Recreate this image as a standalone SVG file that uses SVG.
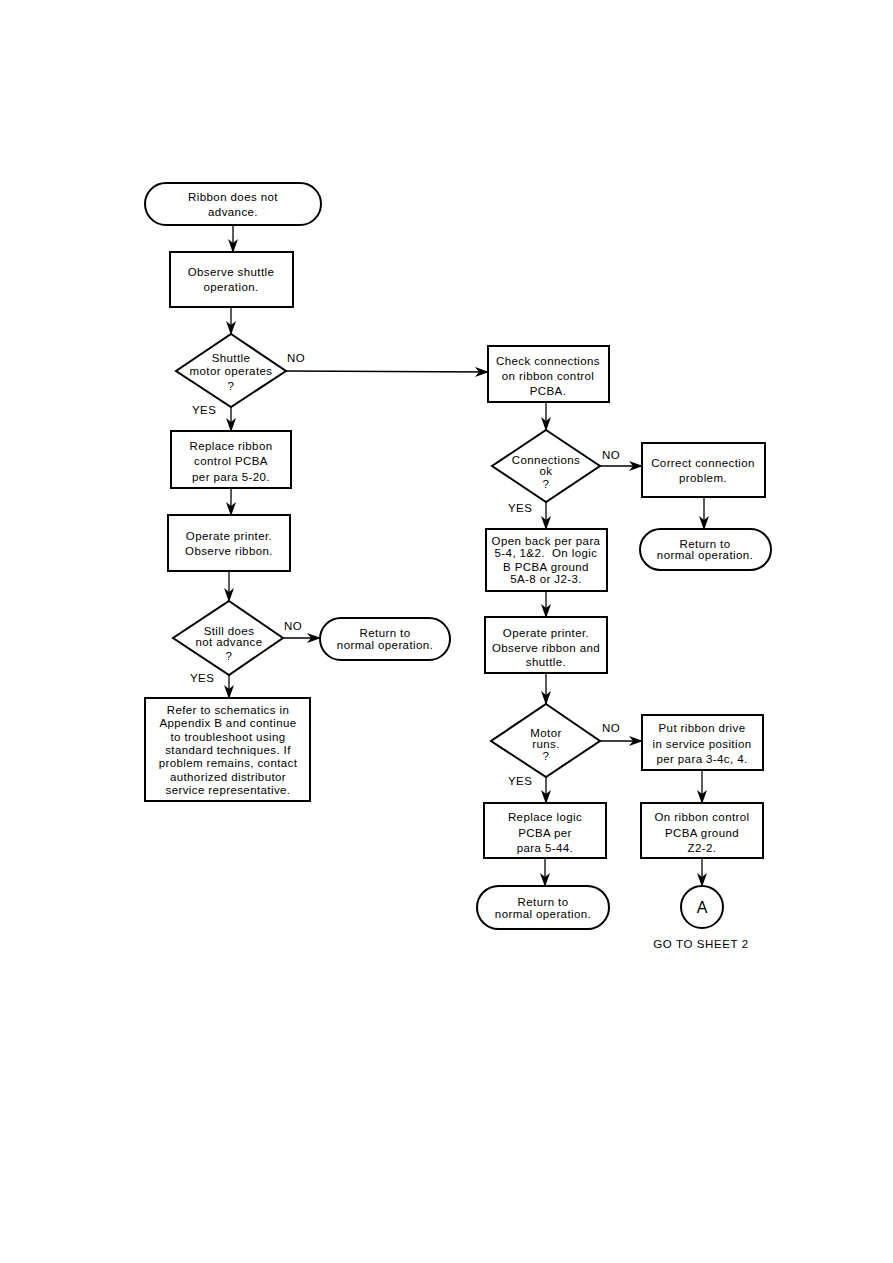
<svg xmlns="http://www.w3.org/2000/svg" width="893" height="1263" viewBox="0 0 893 1263">
<defs>
<marker id="ah" markerWidth="14" markerHeight="10" refX="13" refY="5" orient="auto" markerUnits="userSpaceOnUse">
<path d="M0,0 L14,5 L0,10 L4,5 Z" fill="#000"/>
</marker>
<style>
.s{fill:#fff;stroke:#000;stroke-width:2}
.c{fill:none;stroke:#000;stroke-width:1.3;marker-end:url(#ah)}
text{font-family:"Liberation Sans",Arial,sans-serif;font-size:11.5px;letter-spacing:0.4px;fill:#000}
.m{text-anchor:middle}
</style>
</defs>
<rect width="893" height="1263" fill="#fff"/>
<g id="connectors">
<line class="c" x1="233" y1="225" x2="233" y2="252"/>
<line class="c" x1="231" y1="307" x2="231" y2="334"/>
<line class="c" x1="286" y1="371" x2="488" y2="372"/>
<line class="c" x1="231" y1="407" x2="231" y2="431"/>
<line class="c" x1="231" y1="488" x2="231" y2="515"/>
<line class="c" x1="229" y1="571" x2="229" y2="601"/>
<line class="c" x1="283" y1="638" x2="320" y2="638"/>
<line class="c" x1="229" y1="675" x2="229" y2="698"/>
<line class="c" x1="546" y1="402" x2="546" y2="430"/>
<line class="c" x1="600" y1="466" x2="642" y2="466"/>
<line class="c" x1="704" y1="497" x2="704" y2="529"/>
<line class="c" x1="546" y1="502" x2="546" y2="529"/>
<line class="c" x1="546" y1="591" x2="546" y2="617"/>
<line class="c" x1="546" y1="673" x2="546" y2="704"/>
<line class="c" x1="600" y1="741" x2="642" y2="741"/>
<line class="c" x1="702" y1="770" x2="702" y2="803"/>
<line class="c" x1="702" y1="858" x2="702" y2="886"/>
<line class="c" x1="546" y1="777" x2="546" y2="803"/>
<line class="c" x1="545" y1="858" x2="545" y2="886"/>
</g>
<g id="labels">
<text x="287" y="362">NO</text>
<text x="192" y="414">YES</text>
<text x="284" y="630">NO</text>
<text x="190" y="682">YES</text>
<text x="602" y="459">NO</text>
<text x="508" y="512">YES</text>
<text x="602" y="732">NO</text>
<text x="508" y="785">YES</text>
</g>
<g id="n1"><rect class="s" x="145" y="183" width="176" height="42" rx="21"/>
<text class="m" x="233" y="201">Ribbon does not</text><text class="m" x="233" y="216">advance.</text></g>
<g id="n2"><rect class="s" x="170" y="252" width="123" height="55"/>
<text class="m" x="231" y="276">Observe shuttle</text><text class="m" x="231" y="291">operation.</text></g>
<g id="n3"><polygon class="s" points="231,334 286,371 231,407 176,371"/>
<text class="m" x="231" y="362">Shuttle</text><text class="m" x="231" y="375">motor operates</text><text class="m" x="231" y="390">?</text></g>
<g id="n4"><rect class="s" x="171" y="431" width="120" height="57"/>
<text class="m" x="231" y="450">Replace ribbon</text><text class="m" x="231" y="465">control PCBA</text><text class="m" x="231" y="481">per para 5-20.</text></g>
<g id="n5"><rect class="s" x="168" y="515" width="122" height="56"/>
<text class="m" x="229" y="540">Operate printer.</text><text class="m" x="229" y="555">Observe ribbon.</text></g>
<g id="n6"><polygon class="s" points="229,601 283,638 229,675 173,638"/>
<text class="m" x="229" y="635">Still does</text><text class="m" x="229" y="646">not advance</text><text class="m" x="229" y="660">?</text></g>
<g id="n7"><rect class="s" x="320" y="618" width="130" height="42" rx="21"/>
<text class="m" x="385" y="637">Return to</text><text class="m" x="385" y="649">normal operation.</text></g>
<g id="n8"><rect class="s" x="145" y="698" width="165" height="103"/>
<text class="m" x="228" y="714">Refer to schematics in</text><text class="m" x="228" y="727">Appendix B and continue</text><text class="m" x="228" y="741">to troubleshoot using</text><text class="m" x="228" y="754">standard techniques. If</text><text class="m" x="228" y="767">problem remains, contact</text><text class="m" x="228" y="781">authorized distributor</text><text class="m" x="228" y="794">service representative.</text></g>
<g id="n9"><rect class="s" x="488" y="346" width="121" height="56"/>
<text class="m" x="548" y="365">Check connections</text><text class="m" x="548" y="380">on ribbon control</text><text class="m" x="548" y="395">PCBA.</text></g>
<g id="n10"><polygon class="s" points="546,430 600,466 546,502 492,466"/>
<text class="m" x="546" y="464">Connections</text><text class="m" x="546" y="475">ok</text><text class="m" x="546" y="488">?</text></g>
<g id="n11"><rect class="s" x="642" y="443" width="123" height="54"/>
<text class="m" x="703" y="467">Correct connection</text><text class="m" x="703" y="482">problem.</text></g>
<g id="n12"><rect class="s" x="640" y="529" width="131" height="41" rx="20.5"/>
<text class="m" x="705" y="548">Return to</text><text class="m" x="705" y="559">normal operation.</text></g>
<g id="n13"><rect class="s" x="486" y="529" width="121" height="62"/>
<text class="m" x="546" y="545">Open back per para</text><text class="m" x="546" y="557">5-4, 1&amp;2.&#160; On logic</text><text class="m" x="546" y="571">B PCBA ground</text><text class="m" x="546" y="583">5A-8 or J2-3.</text></g>
<g id="n14"><rect class="s" x="485" y="617" width="122" height="56"/>
<text class="m" x="546" y="637">Operate printer.</text><text class="m" x="546" y="652">Observe ribbon and</text><text class="m" x="546" y="666">shuttle.</text></g>
<g id="n15"><polygon class="s" points="546,704 600,741 546,777 491,741"/>
<text class="m" x="546" y="737">Motor</text><text class="m" x="546" y="748">runs.</text><text class="m" x="546" y="760">?</text></g>
<g id="n16"><rect class="s" x="642" y="715" width="121" height="55"/>
<text class="m" x="702" y="732">Put ribbon drive</text><text class="m" x="702" y="748">in service position</text><text class="m" x="702" y="763">per para 3-4c, 4.</text></g>
<g id="n17"><rect class="s" x="641" y="803" width="122" height="55"/>
<text class="m" x="702" y="821">On ribbon control</text><text class="m" x="702" y="837">PCBA ground</text><text class="m" x="702" y="852">Z2-2.</text></g>
<g id="n18"><rect class="s" x="484" y="803" width="122" height="55"/>
<text class="m" x="545" y="821">Replace logic</text><text class="m" x="545" y="837">PCBA per</text><text class="m" x="545" y="852">para 5-44.</text></g>
<g id="n19"><rect class="s" x="477" y="886" width="132" height="43" rx="21.5"/>
<text class="m" x="543" y="906">Return to</text><text class="m" x="543" y="918">normal operation.</text></g>
<g id="n20"><circle class="s" cx="702" cy="907" r="21"/>
<text class="m" x="702" y="913" style="font-size:16px;letter-spacing:0">A</text></g>
<text class="m" x="701" y="948" style="letter-spacing:0.6px">GO TO SHEET 2</text>
</svg>
